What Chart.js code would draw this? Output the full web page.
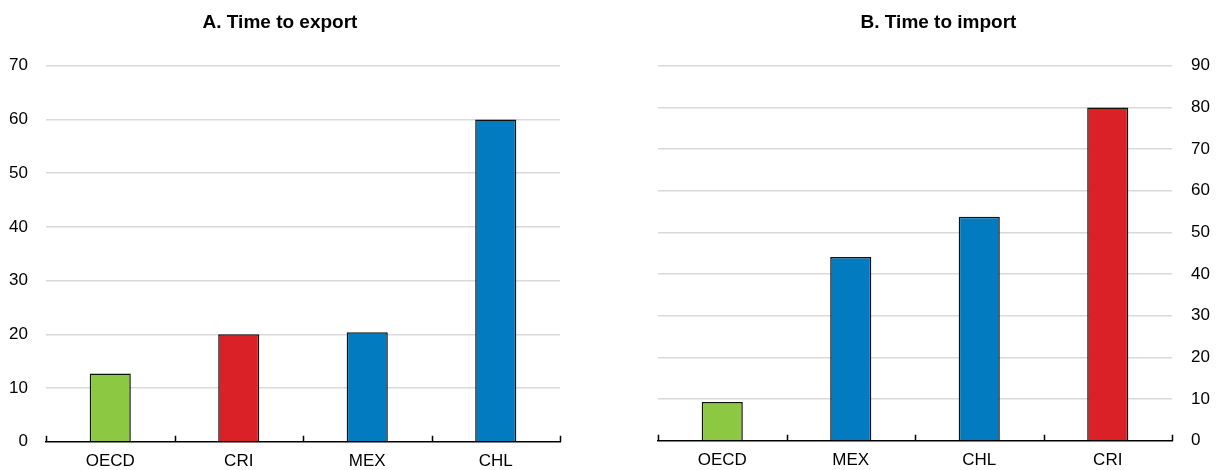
<!DOCTYPE html>
<html lang="en">
<head>
  <meta charset="UTF-8" />
  <title>Time to export / import</title>
  <script src="https://cdn.jsdelivr.net/npm/chart.js"></script>
  <style>
    html, body {
      margin: 0;
      padding: 0;
      background: #ffffff;
    }

    .panel {
      position: absolute;
      top: 0;
      height: 470px;
    }

    #left-panel { left: 0; width: 609px; }
    #right-panel { left: 609px; width: 610px; }
  </style>
</head>

<body>

<div class="panel" id="left-panel"><canvas id="exportChart"></canvas></div>
<div class="panel" id="right-panel"><canvas id="importChart"></canvas></div>

<script>
  // Panel A: time to export
  const exportCountries = ['OECD', 'CRI', 'MEX', 'CHL'];
  const exportTime = [12.7, 20, 20.4, 60];
  const exportTicks = [0, 10, 20, 30, 40, 50, 60, 70];

  // Panel B: time to import
  const importCountries = ['OECD', 'MEX', 'CHL', 'CRI'];
  const importTime = [9.3, 44.1, 53.8, 80];
  const importTicks = [0, 10, 20, 30, 40, 50, 60, 70, 80, 90];

  const GREEN = '#8cc841';
  const RED = '#da2128';
  const BLUE = '#037bc1';
  const FONT = "'Liberation Sans', Arial, sans-serif";

  function barColour(country) {
    if (country === 'OECD') return GREEN;
    if (country === 'CRI') return RED;
    return BLUE;
  }

  // small upward tick marks at the category boundaries on the x axis
  const boundaryTicks = {
    id: 'boundaryTicks',
    afterDraw(chart) {
      const x = chart.scales.x;
      const ctx = chart.ctx;
      const n = x.ticks.length;
      const step = (x.right - x.left) / n;
      const y = chart.chartArea.bottom;
      ctx.save();
      ctx.strokeStyle = '#000';
      ctx.lineWidth = 1.5;
      ctx.beginPath();
      for (let i = 0; i <= n; i++) {
        const px = Math.round(x.left + i * step) + 0.5;
        ctx.moveTo(px, y);
        ctx.lineTo(px, y - 6);
      }
      ctx.stroke();
      ctx.restore();
    }
  };

  function makeChart(canvasId, title, labels, values, ticks, side) {
    const yMax = ticks[ticks.length - 1];
    return new Chart(document.getElementById(canvasId), {
      type: 'bar',
      data: {
        labels: labels,
        datasets: [{
          data: values,
          backgroundColor: labels.map(barColour),
          borderColor: '#111',
          borderWidth: 1.5,
          barPercentage: 0.32,
          categoryPercentage: 1
        }]
      },
      options: {
        responsive: true,
        maintainAspectRatio: false,
        animation: false,
        layout: {
          padding: side === 'left'
            ? { left: 0, right: 49, top: 0, bottom: 0 }
            : { left: 49, right: 0, top: 0, bottom: 0 }
        },
        plugins: {
          legend: { display: false },
          tooltip: { enabled: false },
          title: {
            display: true,
            text: title,
            color: '#000',
            font: { family: FONT, size: 19, weight: 'bold' },
            padding: { top: 11, bottom: 32 }
          }
        },
        scales: {
          x: {
            grid: { display: false, drawTicks: false },
            border: { display: true, color: '#000', width: 1.5 },
            ticks: {
              color: '#000',
              font: { family: FONT, size: 17 },
              padding: 9
            },
            afterFit(scale) { scale.height = 28; }
          },
          y: {
            position: side,
            min: 0,
            max: yMax,
            afterBuildTicks(scale) {
              scale.ticks = ticks.map(v => ({ value: v }));
            },
            grid: {
              color: (c) => c.tick.value === 0 ? 'rgba(0,0,0,0)' : '#d9d9d9',
              lineWidth: 1.5,
              drawTicks: false
            },
            border: { display: false },
            ticks: {
              color: '#000',
              font: { family: FONT, size: 17 },
              padding: side === 'left' ? 18 : 19,
              align: 'center',
              crossAlign: 'near'
            },
            afterFit(scale) { scale.width = side === 'left' ? 46 : 47; }
          }
        }
      },
      plugins: [boundaryTicks]
    });
  }

  makeChart('exportChart', 'A. Time to export', exportCountries, exportTime, exportTicks, 'left');
  makeChart('importChart', 'B. Time to import', importCountries, importTime, importTicks, 'right');
</script>

</body>
</html>
